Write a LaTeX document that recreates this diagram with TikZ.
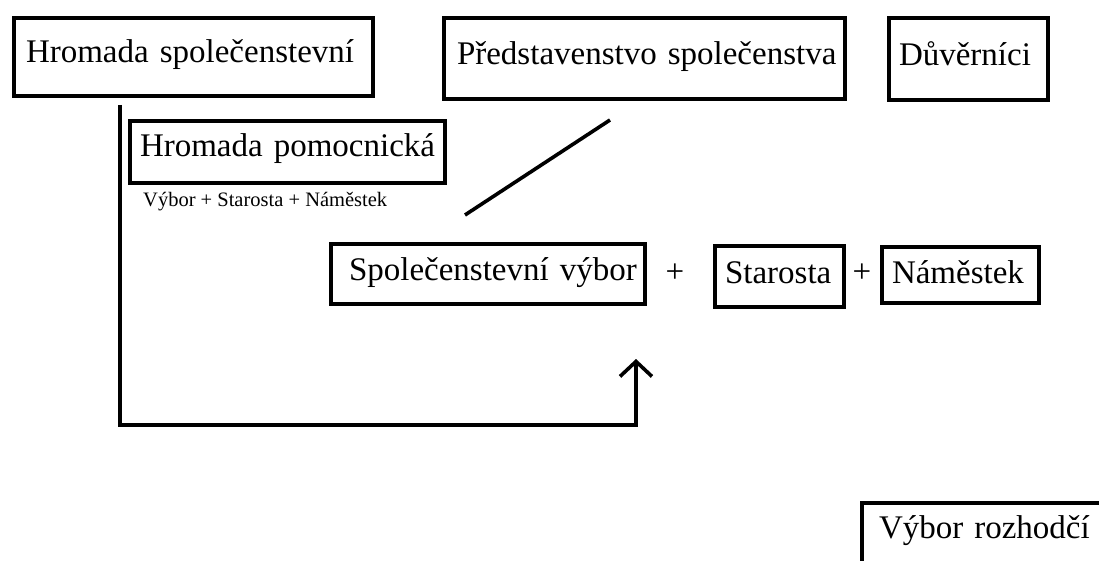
\documentclass[tikz,border=0pt]{standalone}
\usepackage{fontspec}
\setmainfont{Liberation Serif}
\usetikzlibrary{arrows.meta}
\begin{document}
\begin{tikzpicture}[x=1pt,y=-1pt,
  bx/.style={draw, line width=4pt, inner ysep=0pt, anchor=base west, align=left,
    font={\fontsize{33}{40}\selectfont}},
  plus/.style={anchor=base, inner sep=0pt, font={\fontsize{33}{40}\selectfont}},
  small/.style={anchor=base west, inner sep=0pt, font={\fontsize{20.5}{24}\selectfont}},
  ln/.style={line width=3.6pt}]
\useasboundingbox (0,0) rectangle (1099,561);
\clip (0,0) rectangle (1099,561);
\fill[white] (0,0) rectangle (1099,561);

\node[bx, inner xsep=12pt, text width=335pt, text height=45pt, text depth=33pt] (h1) at (12,63) {\mbox{Hromada společenstevní}};
\node[bx, inner xsep=10pt, text width=295pt, text height=36pt, text depth=26pt] (h2) at (128,157) {\mbox{Hromada pomocnická}};
\node[small] (sm) at (143,207) {Výbor + Starosta + Náměstek};
\node[bx, inner xsep=13pt, text width=375pt, text height=47pt, text depth=34pt] (ps) at (442,65) {\mbox{Představenstvo společenstva}};
\node[bx, inner xsep=10pt, text width=139pt, text height=48pt, text depth=34pt] (dv) at (887,66) {\mbox{Důvěrníci}};
\node[bx, inner xsep=18pt, text width=278pt, text height=36pt, text depth=24pt] (sv) at (329,280) {\mbox{Společenstevní výbor}};
\node[plus] (p1) at (675,282) {+};
\node[bx, inner xsep=10pt, text width=109pt, text height=37pt, text depth=24pt] (st) at (713,283) {\mbox{Starosta}};
\node[plus] (p2) at (862,282) {+};
\node[bx, inner xsep=10pt, text width=137pt, text height=36pt, text depth=20pt] (nm) at (880,283) {\mbox{Náměstek}};
\node[bx, inner xsep=17pt, text width=226pt, text height=35pt, text depth=52pt] (vr) at (860,538) {\mbox{Výbor rozhodčí}};

\coordinate (tip) at ([shift={(-11,53)}]sv.south east);
\draw[ln, -{Straight Barb[length=15pt,width=32pt]}] ([shift={(108,7)}]h1.south west) -- ++(0,320) -| (tip);
\draw[ln] ([shift={(168,19)}]ps.south west) -- ([shift={(136,-27)}]sv.north west);
\end{tikzpicture}
\end{document}
